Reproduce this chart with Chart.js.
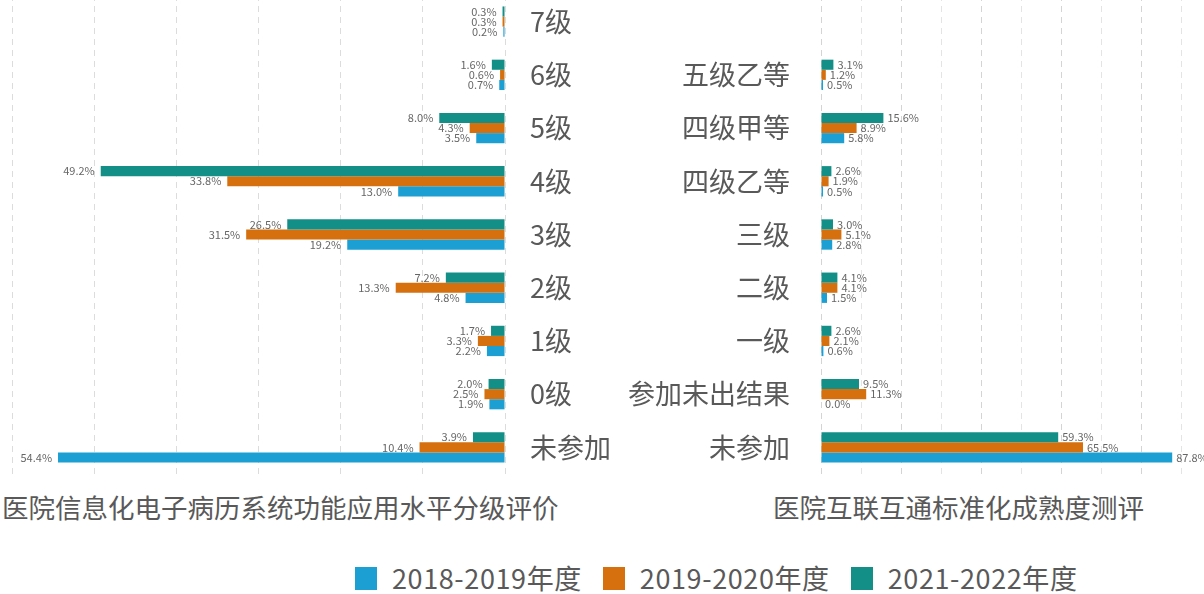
<!DOCTYPE html>
<html>
<head>
<meta charset="utf-8">
<script src="https://cdn.jsdelivr.net/npm/chart.js@4/dist/chart.umd.min.js"></script>
<style>
    body { margin: 0; background: #fff; font-family: "Noto Sans CJK SC", "Noto Sans", sans-serif; color: #595959; }
    #page { position: relative; width: 1204px; height: 594px; overflow: hidden; }
    .box { position: absolute; }
    .title { position: absolute; font-size: 26.5px; line-height: 28px; white-space: nowrap; }
    #legend { position: absolute; left: 355px; top: 564px; display: flex; font-size: 27px; line-height: 28px; letter-spacing: 0.6px; }
    #legend span.item { display: flex; align-items: center; margin-right: 21px; }
    #legend i { display: inline-block; width: 22px; height: 23px; margin-right: 15px; }
</style>
</head>
<body>
<div id="page">
    <div class="box" style="left:0; top:-5px; width:620px; height:479px;"><canvas id="emrChart"></canvas></div>
    <div class="box" style="left:620px; top:-5px; width:584px; height:479px;"><canvas id="interopChart"></canvas></div>
    <div class="title" style="left:2px; top:493px;">医院信息化电子病历系统功能应用水平分级评价</div>
    <div class="title" style="left:773px; top:493px;">医院互联互通标准化成熟度测评</div>
    <div id="legend"></div>
</div>
<script>
    // Series names and colours (legend order)
    const seriesNames = ['2018-2019年度', '2019-2020年度', '2021-2022年度'];
    const seriesColors = ['#1c9fd3', '#d6700f', '#138f87'];

    // Left: 电子病历系统功能应用水平分级评价
    const emrLevels = ['7级', '6级', '5级', '4级', '3级', '2级', '1级', '0级', '未参加'];
    const emr2018 = [0.2, 0.7, 3.5, 13.0, 19.2, 4.8, 2.2, 1.9, 54.4];
    const emr2019 = [0.3, 0.6, 4.3, 33.8, 31.5, 13.3, 3.3, 2.5, 10.4];
    const emr2021 = [0.3, 1.6, 8.0, 49.2, 26.5, 7.2, 1.7, 2.0, 3.9];

    // Right: 互联互通标准化成熟度测评 (top slot left empty to line up with 7级)
    const interopLevels = ['', '五级乙等', '四级甲等', '四级乙等', '三级', '二级', '一级', '参加未出结果', '未参加'];
    const interop2018 = [null, 0.5, 5.8, 0.5, 2.8, 1.5, 0.6, 0.0, 87.8];
    const interop2019 = [null, 1.2, 8.9, 1.9, 5.1, 4.1, 2.1, 11.3, 65.5];
    const interop2021 = [null, 3.1, 15.6, 2.6, 3.0, 4.1, 2.6, 9.5, 59.3];

    const fontFamily = '"Noto Sans CJK SC", "Noto Sans", sans-serif';
    const textColor = '#595959';

    // value labels at the end of each bar
    const valueLabels = {
        id: 'valueLabels',
        afterDatasetsDraw(chart, args, opts) {
            const ctx = chart.ctx;
            ctx.save();
            ctx.font = '11px ' + fontFamily;
            ctx.fillStyle = '#666';
            ctx.textBaseline = 'middle';
            ctx.textAlign = opts.side === 'left' ? 'right' : 'left';
            chart.data.datasets.forEach(function(ds, i) {
                const meta = chart.getDatasetMeta(i);
                meta.data.forEach(function(bar, j) {
                    const v = ds.data[j];
                    if (v === null || v === undefined) return;
                    const x = opts.side === 'left' ? bar.x - 6 : bar.x + 4;
                    ctx.fillText(v.toFixed(1) + '%', x, bar.y);
                });
            });
            ctx.restore();
        }
    };

    // datasets top-to-bottom: 2021-2022, 2019-2020, 2018-2019
    function buildDatasets(a, b, c) {
        const data = [a, b, c];
        return [2, 1, 0].map(function(k) {
            return {
                label: seriesNames[k],
                data: data[k],
                backgroundColor: seriesColors[k],
                borderWidth: 0,
                barPercentage: 1,
                categoryPercentage: 0.57
            };
        });
    }

    function gridColor(ctx) {
        return ctx.tick && ctx.tick.value % 20 === 0 ? '#d4d4d4' : '#e4e4e4';
    }

    function makeChart(id, labels, datasets, side) {
        const isLeft = side === 'left';
        return new Chart(document.getElementById(id), {
            type: 'bar',
            data: { labels: labels, datasets: datasets },
            plugins: [valueLabels],
            options: {
                indexAxis: 'y',
                responsive: true,
                maintainAspectRatio: false,
                animation: false,
                layout: {
                    padding: isLeft ? { left: 12, right: 0, top: 0, bottom: 0 } : { left: 0, right: 23, top: 0, bottom: 0 }
                },
                plugins: {
                    legend: { display: false },
                    tooltip: { enabled: false },
                    valueLabels: { side: side }
                },
                scales: {
                    x: {
                        reverse: isLeft,
                        min: 0,
                        max: isLeft ? 60 : 90,
                        ticks: { display: false, stepSize: 10 },
                        grid: {
                            color: isLeft ? '#dcdcdc' : gridColor,
                            lineWidth: 1,
                            drawTicks: false
                        },
                        border: { display: false, dash: [6, 5] },
                        afterFit: function(scale) {
                            scale.height = 0;
                            scale.paddingLeft = 0;
                            scale.paddingRight = 0;
                        }
                    },
                    y: {
                        position: isLeft ? 'right' : 'left',
                        grid: { display: false, drawTicks: false },
                        border: { display: false },
                        ticks: {
                            color: textColor,
                            padding: isLeft ? 25 : 31,
                            font: { family: fontFamily, size: 27 }
                        },
                        afterFit: function(scale) {
                            scale.width = isLeft ? 115 : 201;
                            scale.paddingTop = 0;
                            scale.paddingBottom = 0;
                        }
                    }
                }
            }
        });
    }

    makeChart('emrChart', emrLevels, buildDatasets(emr2018, emr2019, emr2021), 'left');
    makeChart('interopChart', interopLevels, buildDatasets(interop2018, interop2019, interop2021), 'right');

    // Legend
    const legend = document.getElementById('legend');
    seriesNames.forEach(function(name, i) {
        const item = document.createElement('span');
        item.className = 'item';
        item.innerHTML = '<i style="background:' + seriesColors[i] + '"></i>' + name;
        legend.appendChild(item);
    });
</script>
</body>
</html>
